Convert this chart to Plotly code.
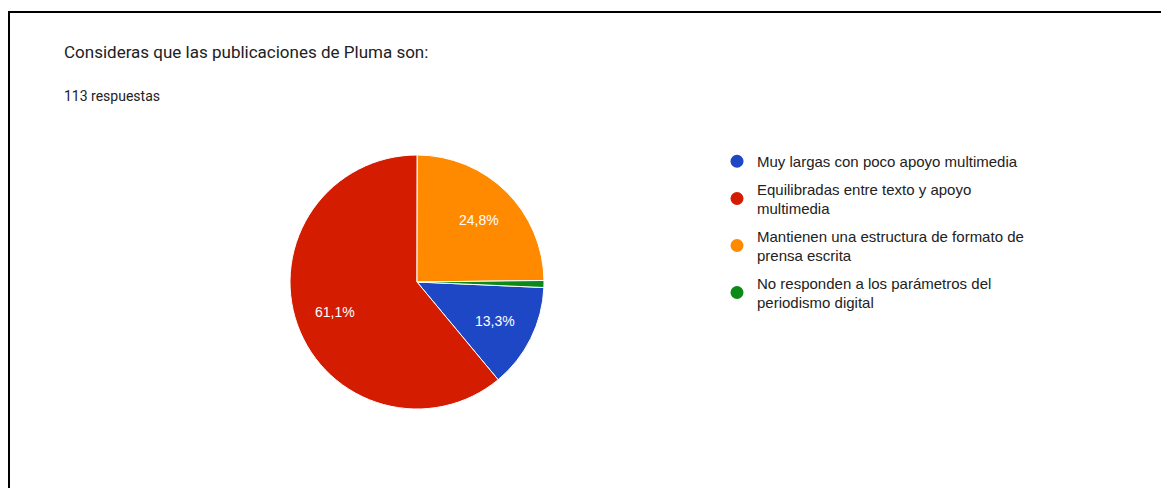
import math
import plotly.graph_objects as go

# Survey answers (113 responses)
categories = [
    "Muy largas con poco apoyo multimedia",
    "Equilibradas entre texto y apoyo multimedia",
    "Mantienen una estructura de formato de prensa escrita",
    "No responden a los parámetros del periodismo digital",
]
legend_labels = [
    "Muy largas con poco apoyo multimedia",
    "Equilibradas entre texto y apoyo<br>multimedia",
    "Mantienen una estructura de formato de<br>prensa escrita",
    "No responden a los parámetros del<br>periodismo digital",
]
counts = [15, 69, 28, 1]
colors = ["#1e47c6", "#d41d00", "#ff8a00", "#0c8a18"]

title_text = "Consideras que las publicaciones de Pluma son:"
subtitle_text = "113 respuestas"

W, H = 1161, 488
START_ANGLE = 92.5          # degrees clockwise from 12 o'clock
PIE_CX, PIE_CY, PIE_R = 417, 282, 127   # pixel geometry of the pie
LABEL_RADIUS = 0.69         # fraction of radius where percentages sit

total = sum(counts)

fig = go.Figure()
fig.add_trace(go.Pie(
    labels=categories,
    values=counts,
    sort=False,
    direction="clockwise",
    rotation=START_ANGLE,
    marker=dict(colors=colors, line=dict(color="#ffffff", width=1)),
    textinfo="none",
    domain=dict(x=[(PIE_CX - PIE_R) / W, (PIE_CX + PIE_R) / W],
                y=[(H - PIE_CY - PIE_R) / H, (H - PIE_CY + PIE_R) / H]),
    showlegend=False,
    hoverinfo="label+percent",
))

# Percentage labels placed along each slice's middle angle
annotations = []
cum = 0
for c in counts:
    share = c / total
    mid = math.radians(START_ANGLE + 360 * (cum + c / 2) / total)
    cum += c
    if share < 0.05:
        continue
    px = PIE_CX + LABEL_RADIUS * PIE_R * math.sin(mid)
    py = PIE_CY - LABEL_RADIUS * PIE_R * math.cos(mid)
    annotations.append(dict(
        text=f"{share * 100:.1f}%".replace(".", ","),
        x=px / W, y=(H - py) / H, xref="paper", yref="paper",
        xanchor="center", yanchor="middle", showarrow=False,
        font=dict(family="Liberation Sans, Arial, sans-serif", size=14, color="#ffffff"),
    ))

# Legend entries with round markers
for i, (lab, col) in enumerate(zip(legend_labels, colors)):
    fig.add_trace(go.Scatter(
        x=[None], y=[None], mode="markers",
        marker=dict(symbol="circle", size=13, color=col),
        name=lab, legendgroup=f"g{i}", showlegend=True,
    ))

annotations += [
    dict(text=title_text, x=62 / W, y=(H - 52) / H, xref="paper", yref="paper",
         xanchor="left", yanchor="middle", showarrow=False,
         font=dict(family="Roboto, sans-serif", size=17, color="#202124")),
    dict(text=subtitle_text, x=62 / W, y=(H - 96) / H, xref="paper", yref="paper",
         xanchor="left", yanchor="middle", showarrow=False,
         font=dict(family="Roboto, sans-serif", size=14, color="#202124")),
]

fig.update_layout(
    width=W, height=H,
    margin=dict(l=0, r=0, t=0, b=0),
    paper_bgcolor="#ffffff",
    plot_bgcolor="#ffffff",
    xaxis=dict(visible=False),
    yaxis=dict(visible=False),
    legend=dict(
        x=717 / W, y=(H - 145) / H, xanchor="left", yanchor="top",
        font=dict(family="Liberation Sans, Arial, sans-serif", size=15, color="#222222"),
        tracegroupgap=5,
        itemsizing="trace",
        bgcolor="rgba(0,0,0,0)",
    ),
    annotations=annotations,
    shapes=[
        # frame: top and left edges
        dict(type="line", xref="paper", yref="paper", x0=8 / W, x1=1, y0=(H - 12) / H, y1=(H - 12) / H,
             line=dict(color="#000000", width=2)),
        dict(type="line", xref="paper", yref="paper", x0=9 / W, x1=9 / W, y0=0, y1=(H - 11) / H,
             line=dict(color="#000000", width=2)),
    ],
)

fig.write_html("out.html")
